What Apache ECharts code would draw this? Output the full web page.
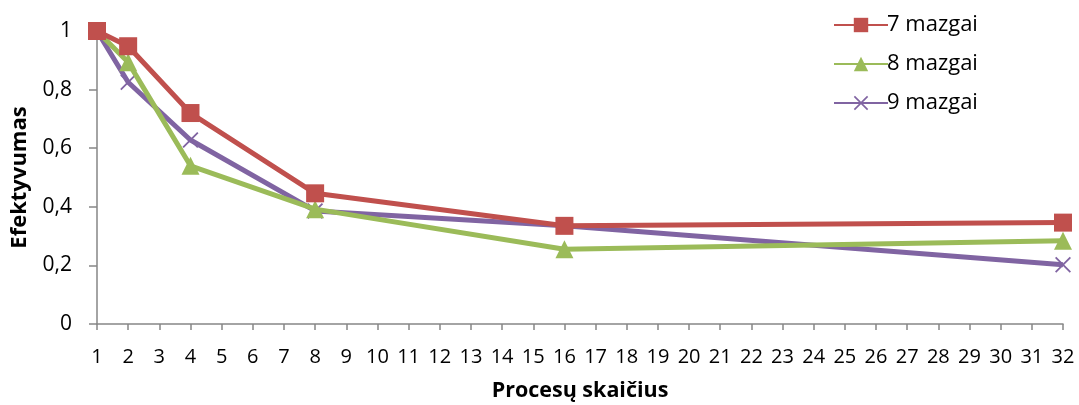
<!DOCTYPE html>
<html>
<head>
<meta charset="utf-8">
<script src="https://cdn.jsdelivr.net/npm/echarts@6/dist/echarts.min.js"></script>
<style>
html,body{margin:0;padding:0;background:#fff;}
#c{width:1079px;height:405px;}
</style>
</head>
<body>
<div id="c"></div>
<script>
const xValues = [1, 2, 4, 8, 16, 32];
const seriesNames = ['7 mazgai', '8 mazgai', '9 mazgai'];
const s7 = [1.0, 0.948, 0.72, 0.446, 0.335, 0.346];
const s8 = [1.0, 0.893, 0.54, 0.392, 0.255, 0.284];
const s9 = [1.0, 0.825, 0.628, 0.386, 0.335, 0.202];
const colors = ['#C0504D', '#9BBB59', '#8064A2'];
const xAxisName = 'Procesų skaičius';
const yAxisName = 'Efektyvumas';

const crossPath = 'path://M0,0.8 L0.8,0 L5,4.2 L9.2,0 L10,0.8 L5.8,5 L10,9.2 L9.2,10 L5,5.8 L0.8,10 L0,9.2 L4.2,5 Z';
const symbols = ['rect', 'triangle', crossPath];
const symbolSizes = [18, 18, 16];
const allSeries = [s7, s8, s9];

const chart = echarts.init(document.getElementById('c'));
const FONT = 'Open Sans';
chart.setOption({
  animation: false,
  textStyle: { fontFamily: FONT },
  legend: {
    orient: 'vertical',
    left: 828,
    top: 9,
    itemWidth: 54,
    itemHeight: 18,
    itemGap: 17,
    data: seriesNames,
    textStyle: { fontFamily: FONT, fontSize: 22, color: '#000', padding: [0, 0, 0, -6] }
  },
  grid: { left: 97, right: 16, top: 31, bottom: 81, containLabel: false, outerBoundsMode: 'none' },
  xAxis: {
    type: 'value',
    min: 1, max: 32, interval: 1,
    name: xAxisName,
    nameLocation: 'middle',
    nameGap: 56,
    nameTextStyle: { fontFamily: FONT, fontSize: 21.5, fontWeight: 'bold', color: '#000' },
    axisLine: { lineStyle: { color: '#868686', width: 1.5 } },
    axisTick: { show: true, length: 6, lineStyle: { color: '#868686', width: 1.5 } },
    axisLabel: { fontFamily: FONT, fontSize: 20, color: '#000', margin: 23 },
    splitLine: { show: false }
  },
  yAxis: {
    type: 'value',
    min: 0, max: 1, interval: 0.2,
    name: yAxisName,
    nameLocation: 'middle',
    nameGap: 66,
    nameTextStyle: { fontFamily: FONT, fontSize: 22, fontWeight: 'bold', color: '#000' },
    axisLine: { show: true, lineStyle: { color: '#868686', width: 1.5 } },
    axisTick: { show: true, length: 8, lineStyle: { color: '#868686', width: 1.5 } },
    axisLabel: {
      fontFamily: FONT, fontSize: 21, color: '#000', margin: 25,
      formatter: v => (Math.round(v * 10) / 10).toString().replace('.', ',')
    },
    splitLine: { show: false }
  },
  series: allSeries.map((arr, i) => ({
    name: seriesNames[i],
    type: 'line',
    data: xValues.map((x, j) => [x, arr[j]]),
    symbol: symbols[i],
    symbolSize: symbolSizes[i],
    showAllSymbol: true,
    color: colors[i],
    lineStyle: { color: colors[i], width: 5 },
    itemStyle: { color: colors[i] },
    z: 2 + (2 - i)
  }))
});
</script>
</body>
</html>
